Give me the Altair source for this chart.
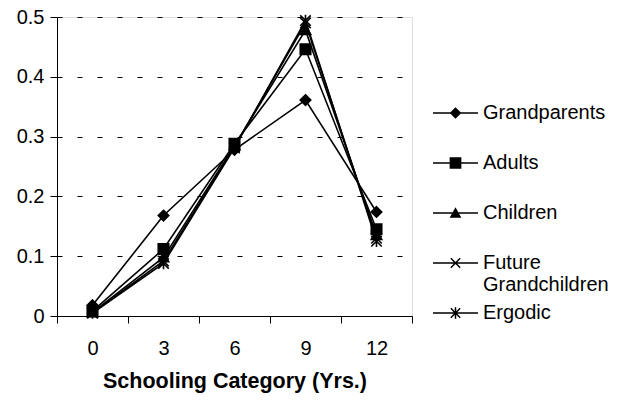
import altair as alt
import pandas as pd

categories = ["0", "3", "6", "9", "12"]
series_names = ["Grandparents", "Adults", "Children", "Future Grandchildren", "Ergodic"]
grandparents = [0.018, 0.168, 0.278, 0.361, 0.174]
adults = [0.008, 0.112, 0.288, 0.446, 0.145]
children = [0.006, 0.098, 0.285, 0.478, 0.135]
future_grandchildren = [0.005, 0.092, 0.283, 0.490, 0.130]
ergodic = [0.005, 0.088, 0.281, 0.494, 0.125]

all_series = [grandparents, adults, children, future_grandchildren, ergodic]
rows = []
for name, vals in zip(series_names, all_series):
    for c, v in zip(categories, vals):
        rows.append({"cat": c, "value": v, "series": name})
df = pd.DataFrame(rows)

FONT = "Liberation Sans"

# marker shapes used in the plot
plot_shapes = [
    "M0,-1L1,0L0,1L-1,0Z",
    "M-1,-1H1V1H-1Z",
    "M0,-1L1,0.8H-1Z",
    "M-1,-1L1,1M-1,1L1,-1",
    "M-1,-1L1,1M-1,1L1,-1M0,-1.1V1.1",
]

# legend symbols: line + marker, built only from filled sub-paths (same winding)
L = 1.5      # half line length
t = 0.05     # half line thickness
m = 0.39     # marker half size
k = m * 0.8  # cross half size
d = 0.035    # cross stroke offset
line = f"M-{L},-{t}H{L}V{t}H-{L}Z"
diag1 = f"M{-k+d},{-k-d}L{k+d},{k-d}L{k-d},{k+d}L{-k-d},{-k+d}Z"
diag2 = f"M{-k-d},{k-d}L{k-d},{-k-d}L{k+d},{-k+d}L{-k+d},{k+d}Z"
vbar = f"M-{t},-{m}H{t}V{m}H-{t}Z"
legend_shapes = [
    line + f"M0,-{m}L{m},0L0,{m}L-{m},0Z",
    line + f"M-{m},-{m}H{m}V{m}H-{m}Z",
    line + f"M0,-{m}L{m},{k}H-{m}Z",
    line + diag1 + diag2,
    line + diag1 + diag2 + vbar,
]

# expression mapping series -> marker path
marker_expr = "''"
for name, path in reversed(list(zip(series_names, plot_shapes))):
    marker_expr = f"datum.series == '{name}' ? '{path}' : ({marker_expr})"

x_enc = alt.X(
    "cat:O",
    sort=categories,
    scale=alt.Scale(type="band", domain=categories, paddingInner=0, paddingOuter=0),
    axis=alt.Axis(
        title="Schooling Category (Yrs.)",
        tickBand="extent",
        labelAngle=0,
        labelFont=FONT,
        labelFontSize=20,
        labelColor="black",
        labelPadding=15,
        titleFont=FONT,
        titleFontSize=21.5,
        titleFontWeight="bold",
        titleColor="black",
        titlePadding=12,
        domainColor="black",
        tickColor="black",
        tickSize=7,
        grid=False,
    ),
)
y_enc = alt.Y(
    "value:Q",
    scale=alt.Scale(domain=[0, 0.5], nice=False),
    axis=alt.Axis(
        title=None,
        values=[0, 0.1, 0.2, 0.3, 0.4, 0.5],
        labelExpr="datum.value == 0 ? '0' : format(datum.value, '.1f')",
        labelFont=FONT,
        labelFontSize=20,
        labelColor="black",
        labelPadding=6,
        domainColor="black",
        tickColor="black",
        tickSize=7,
        grid=True,
        gridColor="black",
        gridDash=[5, 15],
        gridWidth=1,
    ),
)

base = alt.Chart(df)

lines = base.mark_line(color="black", strokeWidth=1.6).encode(
    x=x_enc, y=y_enc, detail="series:N",
    order=alt.Order("cat_order:Q"),
).transform_calculate(cat_order="toNumber(datum.cat)")

points = base.transform_calculate(marker=marker_expr).mark_point(
    filled=True, color="black", stroke="black", strokeWidth=1.6, opacity=1, size=110
).encode(
    x=x_enc, y=y_enc,
    shape=alt.Shape("marker:N", scale=None, legend=None),
)

# invisible layer that only carries the legend (line + marker symbols)
legend_layer = base.mark_point(
    filled=True, color="black", opacity=0, size=900
).encode(
    x=x_enc, y=y_enc,
    shape=alt.Shape(
        "series:N",
        scale=alt.Scale(domain=series_names, range=legend_shapes),
        legend=alt.Legend(
            title=None,
            orient="none",
            legendX=383.5,
            legendY=81,
            gridAlign="all",
            symbolSize=900,
            symbolFillColor="black",
            symbolStrokeWidth=0,
            symbolOpacity=1,
            labelFont=FONT,
            labelFontSize=20,
            labelColor="black",
            labelOffset=12.5,
            labelLimit=300,
            rowPadding=3,
            labelExpr="datum.label == 'Future Grandchildren' ? ['Future', 'Grandchildren'] : datum.label",
        ),
    ),
)

chart = (
    alt.layer(lines, points, legend_layer)
    .resolve_scale(shape="independent")
    .resolve_legend(shape="independent")
    .properties(
        width=355,
        height=299,
        autosize=alt.AutoSizeParams(type="none"),
        padding={"left": 49, "top": 9, "right": 200, "bottom": 77},
    )
    .configure_view(stroke=None)
    .configure(background="white")
)

chart.save("out.html", embed_options={"renderer": "svg", "actions": False})
